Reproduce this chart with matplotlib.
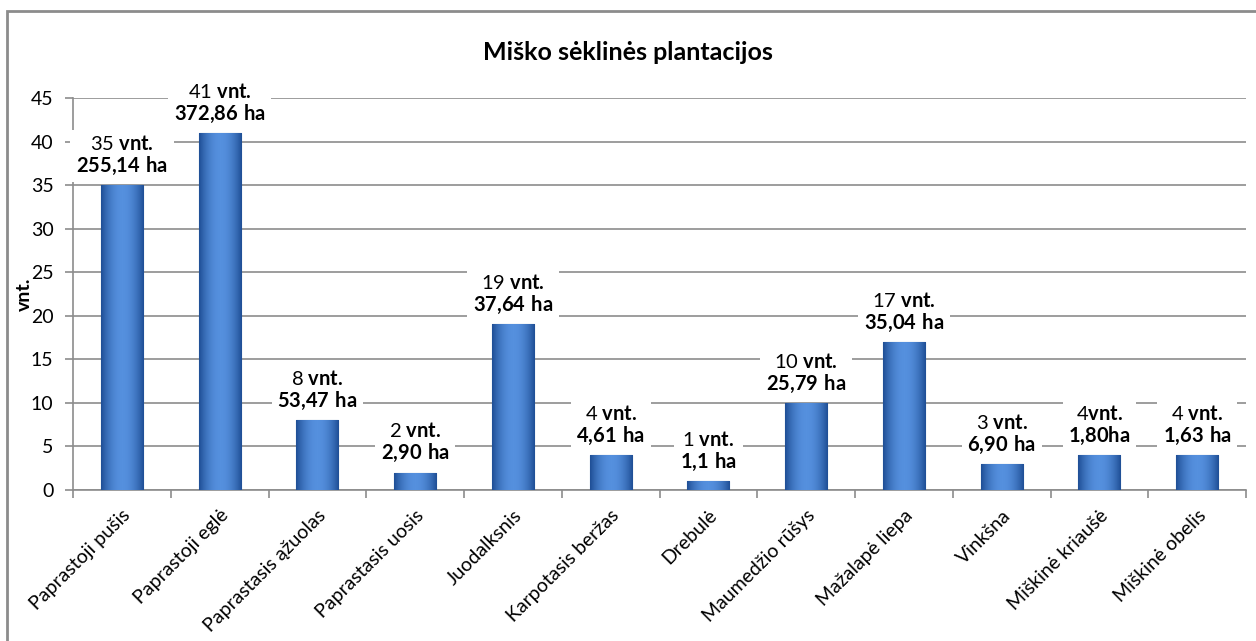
import matplotlib
matplotlib.use('Agg')
import matplotlib.pyplot as plt
import numpy as np

plt.rcParams['font.family'] = ['Lato', 'DejaVu Sans']
plt.rcParams['mathtext.fontset'] = 'custom'
plt.rcParams['mathtext.rm'] = 'Lato'
plt.rcParams['mathtext.bf'] = 'Lato:bold'

# data
rusys = ['Paprastoji pušis', 'Paprastoji eglė', 'Paprastasis ąžuolas',
         'Paprastasis uosis', 'Juodalksnis', 'Karpotasis beržas', 'Drebulė',
         'Maumedžio rūšys', 'Mažalapė liepa', 'Vinkšna', 'Miškinė kriaušė',
         'Miškinė obelis']
vnt = [35, 41, 8, 2, 19, 4, 1, 10, 17, 3, 4, 4]
ha = ['255,14 ha', '372,86 ha', '53,47 ha', '2,90 ha', '37,64 ha', '4,61 ha',
      '1,1 ha', '25,79 ha', '35,04 ha', '6,90 ha', '1,80ha', '1,63 ha']
vnt_txt = [' vnt.'] * 12
vnt_txt[10] = 'vnt.'

W, H = 1256, 641
fig = plt.figure(figsize=(W / 100, H / 100), dpi=100)

# outer frame
fig.add_artist(plt.Rectangle((7 / W, -0.05), 1.1, 1 - 11 / H + 0.05,
                             transform=fig.transFigure, fill=False,
                             edgecolor='#8c8c8c', linewidth=2))

ax = fig.add_axes([73 / W, 1 - 490 / H, (1246 - 73) / W, (490 - 98) / H])

x = np.arange(len(rusys))
bars = ax.bar(x, vnt, width=0.43, color='#3a72c4', edgecolor='#2b5ca3',
              linewidth=0.8, zorder=3)

# gradient shading on bars
grad = np.linspace(0, 1, 64)
shade = 1 - 4 * (grad - 0.5) ** 2
cmap = matplotlib.colors.LinearSegmentedColormap.from_list(
    'b', ['#1f4f96', '#5590de'])
for b in bars:
    im = ax.imshow(shade[None, :], cmap=cmap, aspect='auto',
                   extent=[b.get_x(), b.get_x() + b.get_width(), 0, b.get_height()],
                   zorder=3.5, vmin=0, vmax=1)
    im.set_clip_path(b)

ax.set_xlim(-0.5, len(rusys) - 0.5)
ax.set_ylim(0, 45)
ax.set_yticks(range(0, 46, 5))
ax.grid(axis='y', color='#8c8c8c', linewidth=1.2, zorder=0)
ax.set_axisbelow(True)

for s in ['top', 'right']:
    ax.spines[s].set_visible(False)
for s in ['left', 'bottom']:
    ax.spines[s].set_color('#8c8c8c')
    ax.spines[s].set_linewidth(1.2)

ax.set_xticks(x)
ax.set_xticklabels(rusys, rotation=45, ha='right', rotation_mode='anchor',
                   fontsize=14)
ax.set_xticks(np.arange(-0.5, len(rusys), 1), minor=True)
ax.tick_params(axis='x', which='major', length=0, pad=12)
ax.tick_params(axis='x', which='minor', length=6, color='#8c8c8c', width=1.2)
ax.tick_params(axis='y', length=6, color='#8c8c8c', width=1.2, labelsize=14,
               pad=8)

ax.set_ylabel('vnt.', fontsize=14, fontweight='bold', labelpad=2)
ax.yaxis.set_label_coords(-0.034, 0.5)

fig.text(0.5, 1 - 53 / H, 'Miško sėklinės plantacijos', ha='center',
         va='center', fontsize=18, fontweight='bold')

for xi, v, h, t in zip(x, vnt, ha, vnt_txt):
    lbl = str(v) + t.replace('vnt.', r'$\mathbf{vnt.}$') + '\n' + r'$\mathbf{' + h.replace(' ', r'\ ').replace(',', '{,}') + '}$'
    ax.annotate(lbl, (xi, v), xytext=(0, 6), textcoords='offset points',
                ha='center', va='bottom', fontsize=14.5, multialignment='center',
                linespacing=1.1, zorder=5,
                bbox=dict(facecolor='white', edgecolor='none', pad=4))

fig.savefig('out.png', dpi=100)
